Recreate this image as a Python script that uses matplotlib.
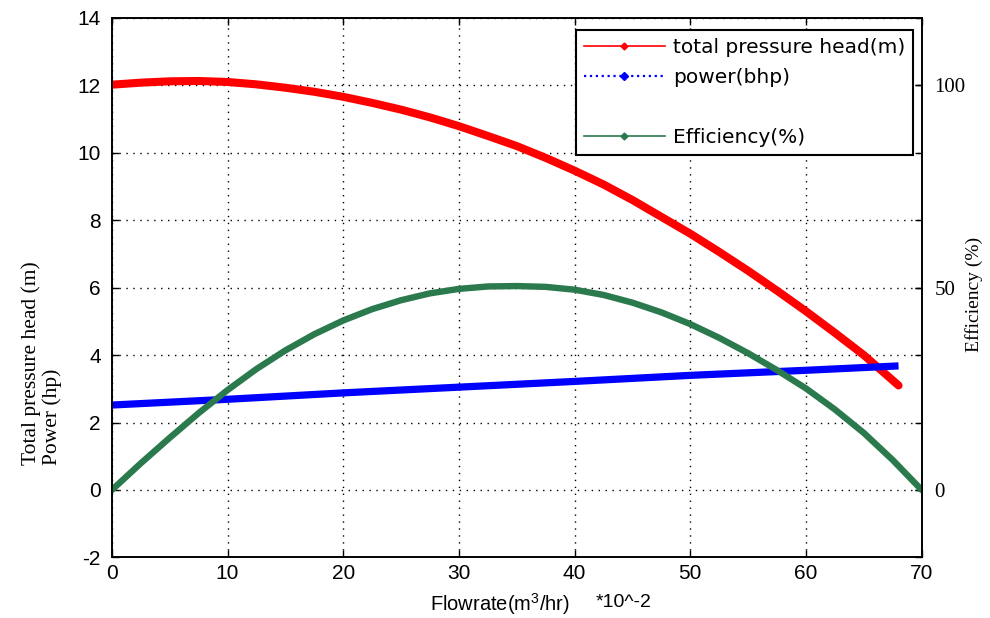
import matplotlib

matplotlib.use("Agg")

import matplotlib.pyplot as plt
from matplotlib.lines import Line2D

plt.rcParams["axes.unicode_minus"] = False
plt.rcParams["mathtext.fontset"] = "custom"
plt.rcParams["mathtext.rm"] = "Liberation Sans"
plt.rcParams["mathtext.it"] = "Liberation Sans"

# values
flow_head = [0, 2.5, 5, 7.5, 10, 12.5, 15, 17.5, 20, 22.5, 25, 27.5, 30, 32.5, 35,
             37.5, 40, 42.5, 45, 47.5, 50, 52.5, 55, 57.5, 60, 62.5, 65, 67.5, 68]
head_m = [12.02, 12.08, 12.12, 12.13, 12.1, 12.03, 11.93, 11.81, 11.66, 11.48, 11.28, 11.05,
          10.79, 10.5, 10.2, 9.85, 9.47, 9.06, 8.6, 8.1, 7.6, 7.06, 6.5, 5.91, 5.3,
          4.66, 4.0, 3.25, 3.1]

flow_power = [0, 10, 20, 30, 40, 50, 60, 68]
power_hp = [2.52, 2.69, 2.88, 3.05, 3.22, 3.40, 3.55, 3.68]

flow_eff = [0, 2.5, 5, 7.5, 10, 12.5, 15, 17.5, 20, 22.5, 25, 27.5, 30, 32.5, 35,
            37.5, 40, 42.5, 45, 47.5, 50, 52.5, 55, 57.5, 60, 62.5, 65, 67.5, 70]
eff_pct = [0, 6.6, 12.9, 19.0, 24.7, 29.9, 34.5, 38.5, 41.9, 44.7, 46.9, 48.6, 49.7, 50.3,
           50.4, 50.2, 49.5, 48.2, 46.3, 43.9, 41.0, 37.6, 33.8, 29.6, 25.1, 19.9, 14.1,
           7.4, 0]

left_ticks = [-2, 0, 2, 4, 6, 8, 10, 12, 14]
right_ticks = [0, 50, 100]
x_ticks = [0, 10, 20, 30, 40, 50, 60, 70]

RED = "#ff0000"
BLUE = "#0000ff"
GREEN = "#2b7a4e"
SERIF = "Liberation Serif"
SANS = "Liberation Sans"

fig = plt.figure(figsize=(9.9, 6.18), dpi=100)
ax = fig.add_axes([0.113, 0.098, 0.818, 0.873])
ax2 = ax.twinx()

ax.plot(flow_head, head_m, color=RED, lw=5.8, solid_capstyle="round", solid_joinstyle="round")
ax.plot(flow_power, power_hp, color=BLUE, lw=5.2, solid_capstyle="butt")
ax2.plot(flow_eff, eff_pct, color=GREEN, lw=4.6, solid_capstyle="round", solid_joinstyle="round")

ax.set_xlim(0, 70)
ax.set_ylim(-2, 14)
ax2.set_ylim(-2 * 50 / 6, 14 * 50 / 6)

ax.set_xticks(x_ticks)
ax.set_yticks(left_ticks)
ax2.set_yticks(right_ticks)

ax.grid(True, color="black", linestyle=(0, (1, 4)), linewidth=1.0)
ax.tick_params(direction="in", length=5, width=1, top=True, right=True, colors="black")
ax.tick_params(axis="y", labelsize=15, pad=8)
ax.tick_params(axis="x", labelsize=15, pad=5)
ax2.tick_params(direction="in", length=5, width=1, labelsize=15, pad=9)

for lab in ax.get_yticklabels() + ax.get_xticklabels():
    lab.set_fontfamily(SANS)
for lab in ax2.get_yticklabels():
    lab.set_fontfamily(SERIF)

for a in (ax, ax2):
    for sp in a.spines.values():
        sp.set_linewidth(1.2)
        sp.set_color("black")

ax.set_ylabel("Total pressure head (m)\nPower (hp)", family=SERIF, fontsize=15.5,
              linespacing=1.15, multialignment="left")
ax.yaxis.set_label_coords(-0.061, 0.36)
ax2.set_ylabel("Efficiency (%)", family=SERIF, fontsize=14)
ax2.yaxis.set_label_coords(1.053, 0.487)
ax.set_xlabel("Flowrate(m$^3$/hr)", family=SANS, fontsize=14.5)
ax.xaxis.set_label_coords(0.479, -0.063)
ax.text(0.597, -0.084, "*10^-2", transform=ax.transAxes, family=SANS, fontsize=14,
        ha="left", va="center")

handles = [
    Line2D([], [], color=RED, ls="-", lw=1.2, marker="D", ms=3.5),
    Line2D([], [], color=BLUE, ls=":", lw=1.6, marker="D", ms=4),
    Line2D([], [], color="none"),
    Line2D([], [], color=GREEN, ls="-", lw=1.2, marker="D", ms=3.5),
]
labels = ["total pressure head(m)", "power(bhp)", " ", "Efficiency(%)"]
leg = ax2.legend(
    handles,
    labels,
    loc="upper right",
    bbox_to_anchor=(913 / 990, 1 - 30 / 618),
    bbox_transform=fig.transFigure,
    prop={"family": "DejaVu Sans", "size": 14.5},
    handlelength=4.0,
    handletextpad=0.4,
    labelspacing=0.55,
    borderpad=0.4,
    borderaxespad=0,
    fancybox=False,
    framealpha=1,
    edgecolor="black",
)
leg.get_frame().set_linewidth(1.5)

fig.savefig("out.png", dpi=100)
